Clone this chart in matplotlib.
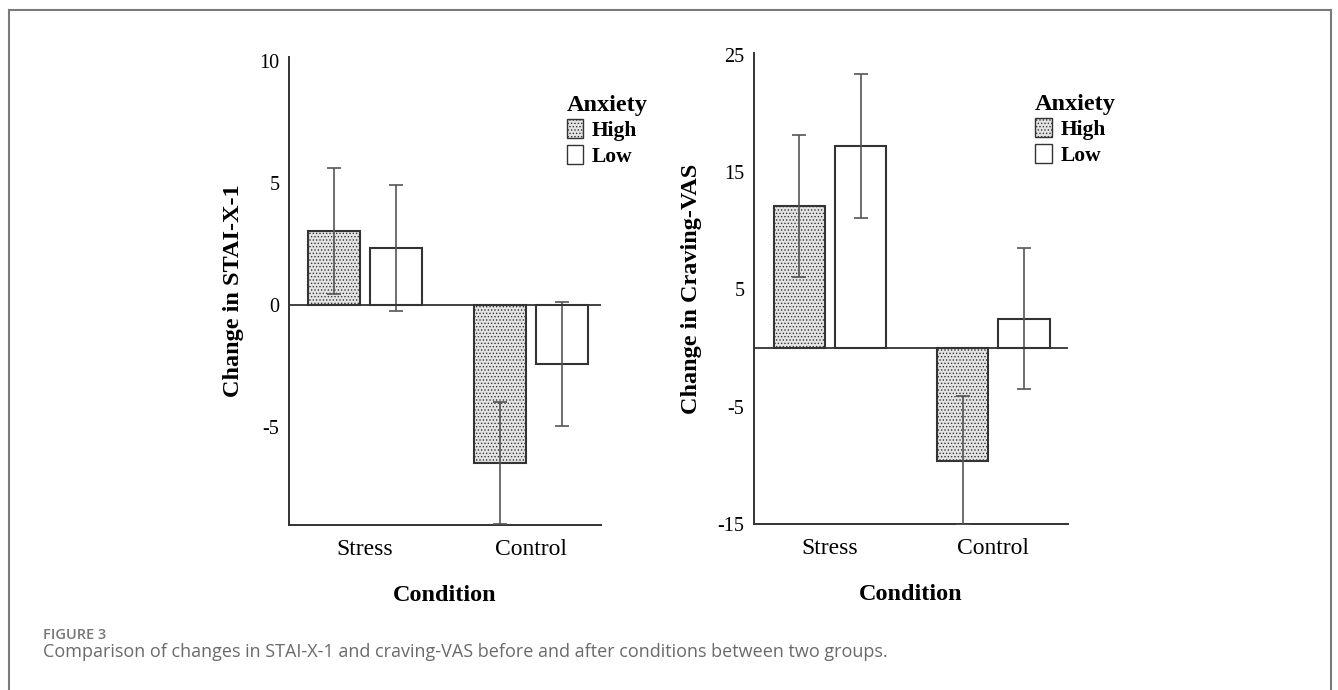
import numpy as np
import matplotlib
matplotlib.use("Agg")
import matplotlib.pyplot as plt
from matplotlib.lines import Line2D
from matplotlib.patches import Patch

# ── data ──────────────────────────────────────────────────────────────────────
conditions = ["Stress", "Control"]
groups = ["High", "Low"]

stai_high = [3.05, -6.45]
stai_high_err = [2.6, 2.5]
stai_low = [2.35, -2.4]
stai_low_err = [2.6, 2.55]

vas_high = [12.1, -9.6]
vas_high_err = [6.05, 5.5]
vas_low = [17.2, 2.5]
vas_low_err = [6.15, 6.0]

stai_ticks = [10, 5, 0, -5]
vas_ticks = [25, 15, 5, -5, -15]

plt.rcParams["font.family"] = ["Liberation Serif", "DejaVu Serif"]
plt.rcParams["hatch.linewidth"] = 0.6
plt.rcParams["hatch.color"] = "#8a8a8a"

W, H = 1338, 690
fig = plt.figure(figsize=(W / 100, H / 100), dpi=100)


def px_axes(x0, x1, ytop, ybot):
    return fig.add_axes([x0 / W, 1 - ybot / H, (x1 - x0) / W, (ybot - ytop) / H])


def draw_panel(ax, high, high_err, low, low_err, ticks, ylim, xlim, ylabel, leg_xy):
    x = np.arange(len(conditions))
    bw, off = 0.313, 0.187
    ax.bar(x - off, high, bw, facecolor="#e4e4e4", edgecolor="#333333",
           linewidth=1.5, hatch=".....", label=groups[0], zorder=2)
    ax.bar(x + off, low, bw, facecolor="white", edgecolor="#333333",
           linewidth=1.5, label=groups[1], zorder=2)
    ax.errorbar(x - off, high, yerr=high_err, fmt="none", ecolor="#555555",
                elinewidth=1.2, capsize=5, capthick=1.2, zorder=3)
    ax.errorbar(x + off, low, yerr=low_err, fmt="none", ecolor="#555555",
                elinewidth=1.2, capsize=5, capthick=1.2, zorder=3)
    ax.axhline(0, color="#333333", linewidth=1.3, zorder=4)

    ax.set_xlim(*xlim)
    ax.set_ylim(*ylim)
    ax.set_yticks(ticks)
    ax.set_yticklabels([str(t) for t in ticks], fontsize=14.5)
    ax.set_xticks(x)
    ax.set_xticklabels(conditions, fontsize=17)
    ax.tick_params(axis="both", length=0)
    ax.tick_params(axis="y", pad=7)
    ax.tick_params(axis="x", pad=10)
    for s in ["top", "right"]:
        ax.spines[s].set_visible(False)
    for s in ["left", "bottom"]:
        ax.spines[s].set_color("#333333")
        ax.spines[s].set_linewidth(1.4)
    ax.set_ylabel(ylabel, fontsize=17.5, fontweight="bold", labelpad=11)
    ax.set_xlabel("Condition", fontsize=17.5, fontweight="bold", labelpad=18)

    handles = [Patch(facecolor="#e4e4e4", edgecolor="#333333", hatch=".....",
                     linewidth=1.0),
               Patch(facecolor="white", edgecolor="#333333", linewidth=1.0)]
    leg = ax.legend(handles, groups, loc="upper left", bbox_to_anchor=leg_xy,
                    frameon=False, title="Anxiety", alignment="left",
                    prop={"size": 15.5, "weight": "bold"},
                    title_fontproperties={"size": 17.5, "weight": "bold"},
                    handlelength=0.78, handleheight=0.95, handletextpad=0.4,
                    labelspacing=0.2, borderpad=0, borderaxespad=0)
    leg._legend_box.sep = 2


ax1 = px_axes(289, 601, 57, 525)
draw_panel(ax1, stai_high, stai_high_err, stai_low, stai_low_err, stai_ticks,
           (-9.0, 10.18), (-0.458, 1.42), "Change in STAI-X-1", (0.89, 0.918))

ax2 = px_axes(754, 1068, 53, 524)
draw_panel(ax2, vas_high, vas_high_err, vas_low, vas_low_err, vas_ticks,
           (-15, 25.15), (-0.465, 1.456), "Change in Craving-VAS", (0.895, 0.912))

# figure frame (top, left, right)
frame_kw = dict(color="#7a7a7a", linewidth=1.5, transform=fig.transFigure)
fig.add_artist(Line2D([9 / W, 1331 / W], [1 - 10 / H, 1 - 10 / H], **frame_kw))
fig.add_artist(Line2D([9 / W, 9 / W], [0, 1 - 10 / H], **frame_kw))
fig.add_artist(Line2D([1331 / W, 1331 / W], [0, 1 - 10 / H], **frame_kw))

# caption
cap_font = ["Open Sans", "DejaVu Sans"]
fig.text(43 / W, 1 - 635 / H, "FIGURE 3", fontsize=10.5, color="#777777",
         family=cap_font, weight="semibold", va="center", ha="left")
fig.text(43 / W, 1 - 652 / H,
         "Comparison of changes in STAI-X-1 and craving-VAS before and after conditions between two groups.",
         fontsize=13, color="#6a6a6a", family=cap_font, va="center", ha="left")

fig.savefig("out.png", dpi=100)
